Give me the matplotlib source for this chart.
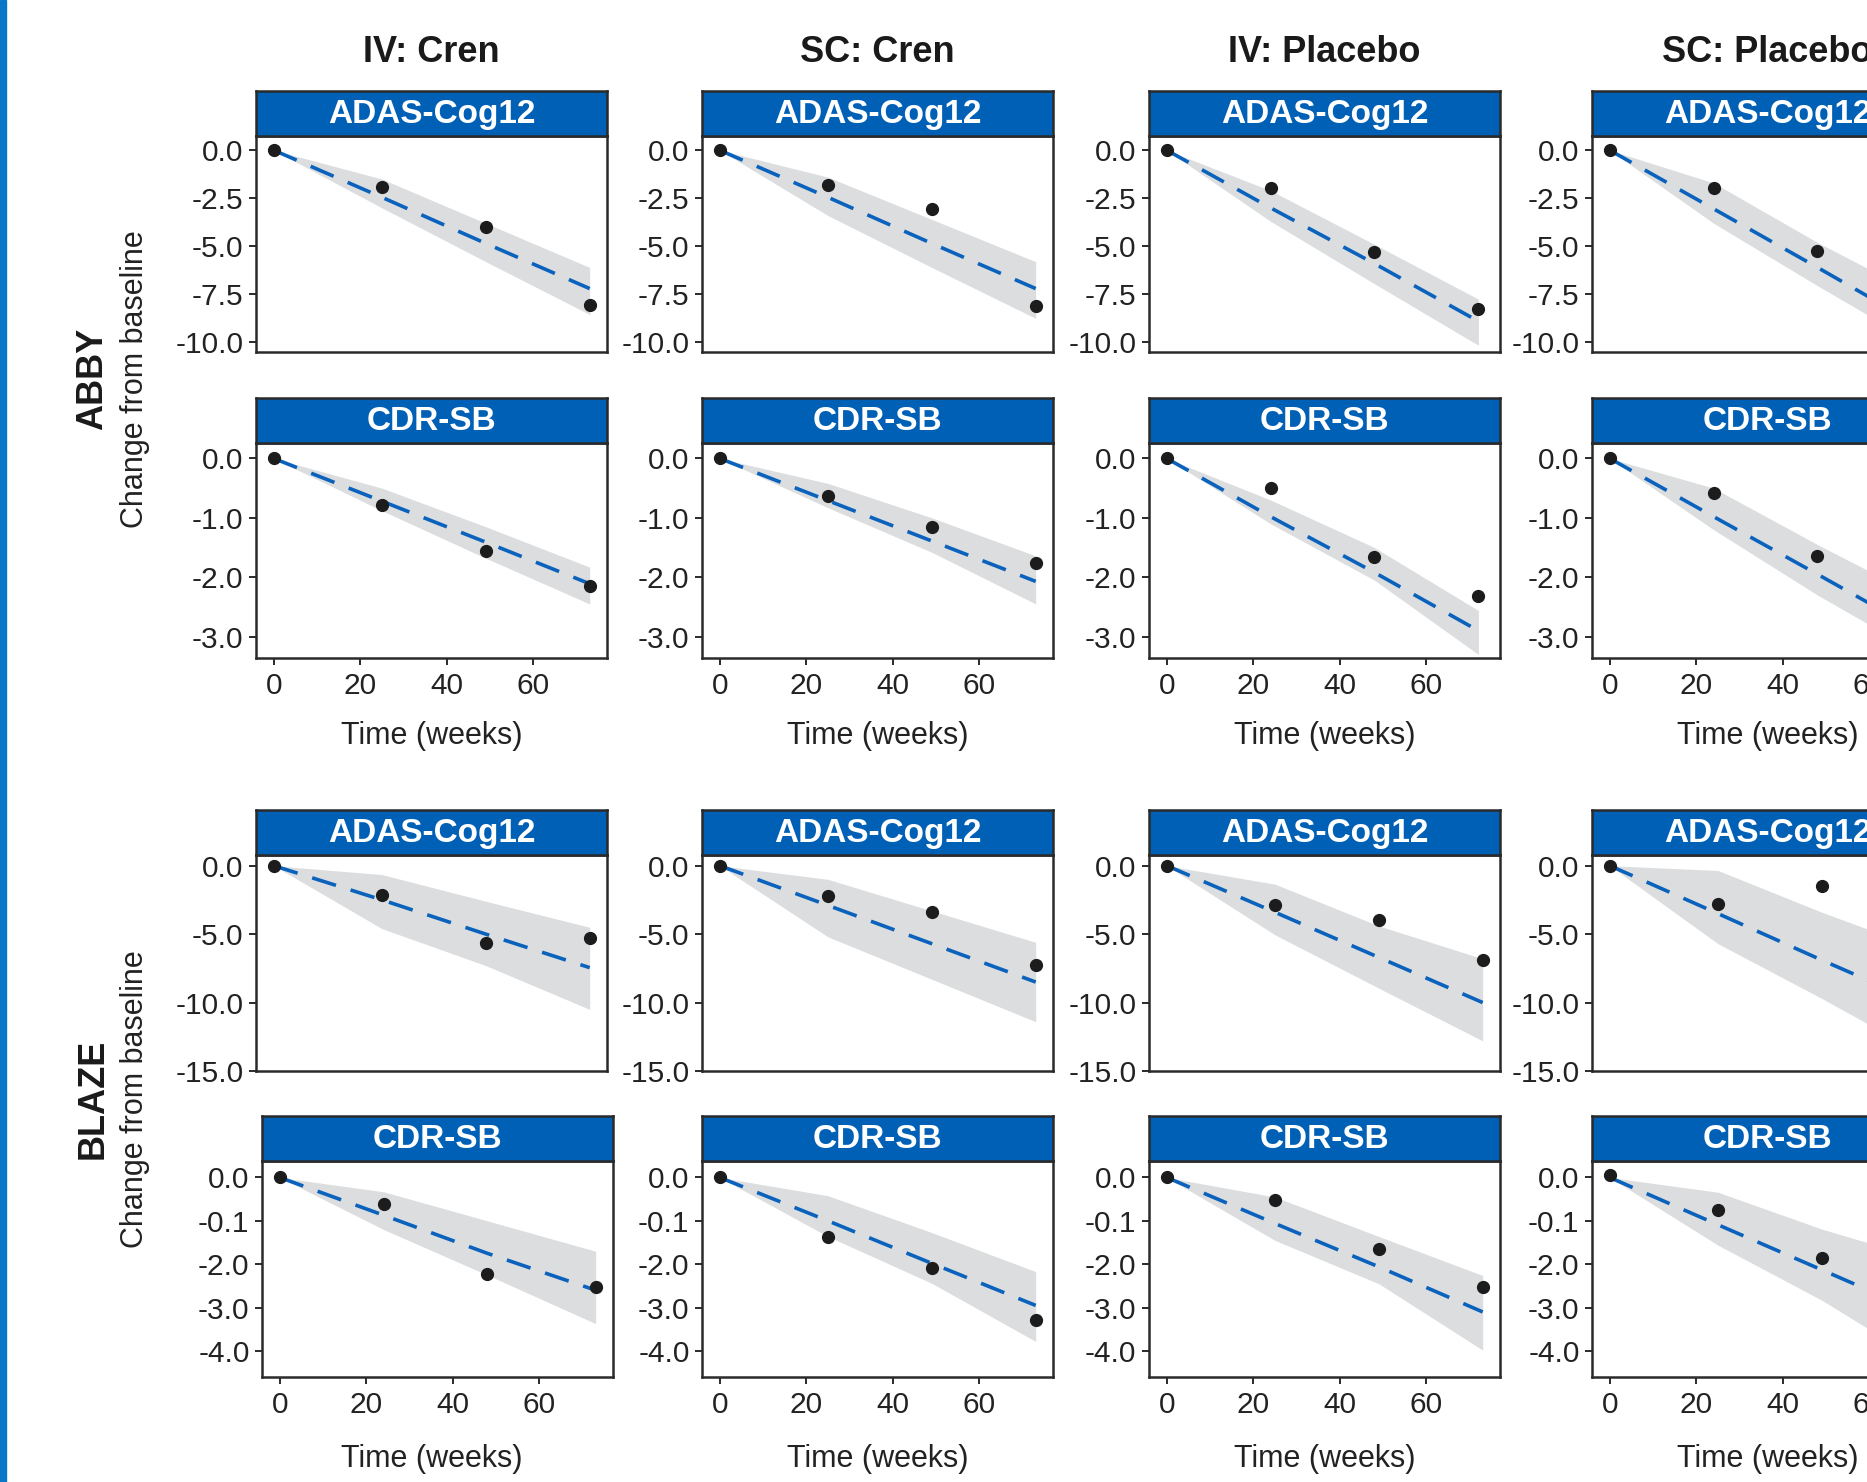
import numpy as np
import matplotlib
matplotlib.use("Agg")
import matplotlib.pyplot as plt
from matplotlib.patches import Rectangle

nan = np.nan

# ---- data ----
columns = ["IV: Cren", "SC: Cren", "IV: Placebo", "SC: Placebo"]
studies = ["ABBY", "BLAZE"]
endpoints = ["ADAS-Cog12", "CDR-SB"]

# ABBY, ADAS-Cog12
abby_adas_weeks = [[0, 25, 49, 73], [0, 25, 49, 73], [0, 24, 48, 72], [0, 24, 48, 72]]
abby_adas_obs = [[0, -1.9, -4.0, -8.05], [0, -1.8, -3.05, -8.1], [0, -1.95, -5.3, -8.25], [0, -1.95, -5.25, nan]]
abby_adas_pred = [[0, -2.45, -4.85, -7.2], [0, -2.45, -4.85, -7.2], [0, -3.0, -5.9, -8.9], [0, -3.05, -6.1, -9.2]]
abby_adas_hi = [[0, -1.5, -3.8, -6.1], [0, -1.4, -3.6, -5.8], [0, -2.1, -4.9, -7.75], [0, -1.7, -4.8, -7.6]]
abby_adas_lo = [[0, -3.0, -5.8, -8.55], [0, -3.4, -6.1, -8.75], [0, -3.7, -6.95, -10.15], [0, -3.8, -7.05, -10.2]]

# ABBY, CDR-SB
abby_cdr_weeks = [[0, 25, 49, 73], [0, 25, 49, 73], [0, 24, 48, 72], [0, 24, 48, 72]]
abby_cdr_obs = [[0, -0.79, -1.55, -2.14], [0, -0.64, -1.15, -1.76], [0, -0.49, -1.66, -2.32], [0, -0.58, -1.65, nan]]
abby_cdr_pred = [[0, -0.72, -1.41, -2.11], [0, -0.71, -1.39, -2.07], [0, -0.98, -1.92, -2.9], [0, -0.98, -1.95, -2.93]]
abby_cdr_hi = [[0, -0.5, -1.15, -1.83], [0, -0.42, -1.0, -1.64], [0, -0.7, -1.5, -2.56], [0, -0.5, -1.45, -2.35]]
abby_cdr_lo = [[0, -0.88, -1.68, -2.45], [0, -0.83, -1.58, -2.45], [0, -1.1, -2.05, -3.3], [0, -1.2, -2.3, -3.3]]

# BLAZE, ADAS-Cog12
blaze_adas_weeks = [[0, 25, 49, 73], [0, 25, 49, 73], [0, 25, 49, 73], [0, 25, 49, 73]]
blaze_adas_obs = [[0, -2.14, -5.63, -5.29], [0, -2.2, -3.37, -7.29], [0, -2.86, -3.97, -6.91], [0, -2.83, -1.5, nan]]
blaze_adas_pred = [[0, -2.5, -5.0, -7.45], [0, -2.9, -5.7, -8.5], [0, -3.4, -6.7, -10.0], [0, -3.5, -6.9, -10.2]]
blaze_adas_hi = [[0, -0.65, -2.6, -4.5], [0, -1.0, -3.3, -5.6], [0, -1.35, -4.4, -6.8], [0, -0.35, -3.4, -6.2]]
blaze_adas_lo = [[0, -4.6, -7.3, -10.5], [0, -5.2, -8.3, -11.4], [0, -5.05, -8.95, -12.8], [0, -5.7, -9.7, -13.9]]

# BLAZE, CDR-SB
blaze_cdr_weeks = [[0, 24, 48, 73], [0, 25, 49, 73], [0, 25, 49, 73], [0, 25, 49, 73]]
blaze_cdr_obs = [[0, -0.62, -2.23, -2.52], [0, -1.38, -2.08, -3.28], [0, -0.52, -1.66, -2.52], [0.05, -0.76, -1.86, nan]]
blaze_cdr_pred = [[0, -0.87, -1.75, -2.6], [0, -1.0, -1.98, -2.95], [0, -1.06, -2.06, -3.1], [0, -1.09, -2.13, -3.17]]
blaze_cdr_hi = [[0, -0.33, -1.0, -1.7], [0, -0.42, -1.27, -2.17], [0, -0.45, -1.36, -2.26], [0, -0.34, -1.19, -1.9]]
blaze_cdr_lo = [[0, -1.2, -2.25, -3.37], [0, -1.36, -2.44, -3.78], [0, -1.45, -2.45, -3.98], [0, -1.56, -2.83, -4.3]]

xticks = [0, 20, 40, 60]
abby_adas_yticks = [0, -2.5, -5, -7.5, -10]
abby_adas_ylabels = ["0.0", "-2.5", "-5.0", "-7.5", "-10.0"]
abby_cdr_yticks = [0, -1, -2, -3]
abby_cdr_ylabels = ["0.0", "-1.0", "-2.0", "-3.0"]
blaze_adas_yticks = [0, -5, -10, -15]
blaze_adas_ylabels = ["0.0", "-5.0", "-10.0", "-15.0"]
blaze_cdr_yticks = [0, -1, -2, -3, -4]
blaze_cdr_ylabels = ["0.0", "-0.1", "-2.0", "-3.0", "-4.0"]

rows = [
    (endpoints[0], abby_adas_weeks, abby_adas_obs, abby_adas_pred, abby_adas_lo, abby_adas_hi,
     (-10.5, 0.74), abby_adas_yticks, abby_adas_ylabels),
    (endpoints[1], abby_cdr_weeks, abby_cdr_obs, abby_cdr_pred, abby_cdr_lo, abby_cdr_hi,
     (-3.36, 0.26), abby_cdr_yticks, abby_cdr_ylabels),
    (endpoints[0], blaze_adas_weeks, blaze_adas_obs, blaze_adas_pred, blaze_adas_lo, blaze_adas_hi,
     (-15.0, 0.78), blaze_adas_yticks, blaze_adas_ylabels),
    (endpoints[1], blaze_cdr_weeks, blaze_cdr_obs, blaze_cdr_pred, blaze_cdr_lo, blaze_cdr_hi,
     (-4.6, 0.38), blaze_cdr_yticks, blaze_cdr_ylabels),
]

# ---- style ----
plt.rcParams['font.family'] = ['Liberation Sans', 'DejaVu Sans']
plt.rcParams['lines.scale_dashes'] = False

BLUE_STRIP = '#0060b6'
BLUE_LINE = '#0a62bc'
RIBBON = '#dcddde'
DARK = '#2a2a2a'

W, H = 1867, 1482
fig = plt.figure(figsize=(W / 100, H / 100), dpi=100)


def box(left, top, width, height):
    return [left / W, 1 - (top + height) / H, width / W, height / H]


col_left = [256, 702, 1149, 1592]
panel_w = 351
strip_h = 45
row_top = [136, 443, 855, 1161]
row_h = [216, 215, 216, 216]

for r, (endpoint, weeks, obs, pred, lo, hi, ylim, yt, ytl) in enumerate(rows):
    for c in range(4):
        left = col_left[c] + (6 if (r == 3 and c == 0) else 0)
        ax = fig.add_axes(box(left, row_top[r], panel_w, row_h[r]))
        ax.fill_between(weeks[c], lo[c], hi[c], color=RIBBON, lw=0, zorder=1)
        ax.plot(weeks[c], pred[c], color=BLUE_LINE, lw=2.6, dashes=(18, 11), zorder=2)
        ax.plot(weeks[c], obs[c], 'o', color='#1c1c1c', ms=8.5, zorder=3)
        ax.set_xlim(-4.1, 77)
        ax.set_ylim(*ylim)
        ax.set_yticks(yt)
        ax.set_yticklabels(ytl)
        ax.set_xticks(xticks)
        if r in (1, 3):
            ax.set_xticklabels([str(t) for t in xticks])
            ax.tick_params(axis='x', length=5, width=1.4, color=DARK, labelsize=21.5,
                           labelcolor='#222222', pad=5)
        else:
            ax.tick_params(axis='x', length=0, labelbottom=False)
        ax.tick_params(axis='y', length=5, width=1.4, color=DARK, labelsize=21.5,
                       labelcolor='#222222', pad=4)
        for sp in ax.spines.values():
            sp.set_linewidth(1.8)
            sp.set_color(DARK)

        # facet strip
        st = fig.add_axes(box(left, row_top[r] - strip_h, panel_w, strip_h))
        st.set_facecolor(BLUE_STRIP)
        st.set_xticks([])
        st.set_yticks([])
        for sp in st.spines.values():
            sp.set_linewidth(1.8)
            sp.set_color(DARK)
        st.text(0.5, 0.47, endpoint, transform=st.transAxes, ha='center', va='center',
                color='white', fontsize=24, fontweight='bold')

# column titles
for c, name in enumerate(columns):
    cx = col_left[c] + panel_w / 2
    fig.text(cx / W, 1 - 52 / H, name, ha='center', va='center', fontsize=26,
             fontweight='bold', color='#1a1a1a')
    for ly in (736, 1459):
        fig.text(cx / W, 1 - ly / H, "Time (weeks)", ha='center', va='center',
                 fontsize=22, color='#222222')

# row labels
for study, cy in zip(studies, (379, 1099)):
    fig.text(93 / W, 1 - cy / H, study, rotation=90, ha='center', va='center',
             fontsize=26, fontweight='bold', color='#1a1a1a')
    fig.text(135 / W, 1 - cy / H, "Change from baseline", rotation=90, ha='center',
             va='center', fontsize=22, color='#222222')

# blue rule on the left edge
fig.patches.append(Rectangle((0, 0), 6 / W, 1, transform=fig.transFigure,
                             color='#0877c8', zorder=0))

fig.savefig("out.png", dpi=100)
